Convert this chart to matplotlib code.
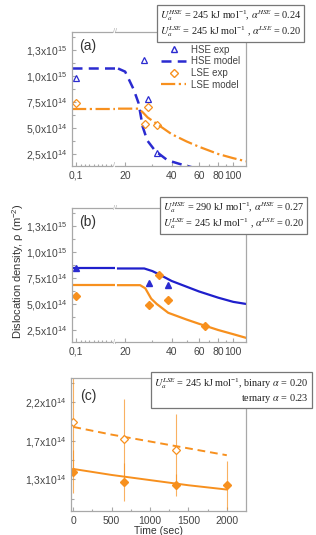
import numpy as np
import matplotlib
matplotlib.use("Agg")
import matplotlib.pyplot as plt
from matplotlib.ticker import FixedLocator, NullFormatter
from matplotlib.lines import Line2D

plt.rcParams['font.family'] = ['Liberation Sans', 'DejaVu Sans']
plt.rcParams['mathtext.fontset'] = 'stix'
plt.rcParams['mathtext.default'] = 'regular'

blue = '#2b2bd0'
orange = '#f7901e'
spine_c = '#a8a8a8'
txt_c = '#444444'

# ---- panel (a) data
a_hse_t = [0.1, 26.6, 28, 32]
a_hse_rho = [0.98e15, 1.15e15, 0.78e15, 0.26e15]
a_lse_t = [0.1, 27, 28, 32]
a_lse_rho = [7.4e14, 5.4e14, 7.0e14, 5.3e14]
a_hse_model_t = [0, 1, 18, 20, 22.7, 24.4, 26, 27.8, 31.3, 37.6, 45, 55]
a_hse_model_rho = [1.07e15, 1.07e15, 1.07e15, 1.04e15, 0.87e15, 0.74e15, 0.51e15, 0.38e15,
                   0.28e15, 0.19e15, 0.155e15, 0.12e15]
a_lse_model_t = [0, 1, 18, 24.4, 26, 28, 32, 40, 50, 60, 80, 100, 121]
a_lse_model_rho = [6.85e14, 6.85e14, 6.85e14, 6.85e14, 6.5e14, 6.0e14, 5.4e14, 4.4e14,
                   3.7e14, 3.2e14, 2.5e14, 2.1e14, 1.8e14]

# ---- panel (b) data
b_hse_t = [0.1, 28.7, 38]
b_hse_rho = [8.46e14, 7.0e14, 6.8e14]
b_lse_t = [0.1, 28.7, 32.9, 38, 65.6]
b_lse_rho = [5.8e14, 4.9e14, 7.8e14, 5.4e14, 2.9e14]
b_hse_model_t = [0, 1, 18, 26.6, 30, 33, 40, 60, 80, 100, 121]
b_hse_model_rho = [8.4e14, 8.4e14, 8.4e14, 8.4e14, 8.15e14, 7.85e14, 7.2e14, 6.2e14,
                   5.6e14, 5.2e14, 5.0e14]
b_lse_model_t = [0, 1, 18, 25, 27, 29.5, 32, 38, 50, 60, 80, 100, 121]
b_lse_model_rho = [6.8e14, 6.8e14, 6.8e14, 6.8e14, 6.5e14, 5.5e14, 5.0e14, 4.15e14,
                   3.5e14, 3.1e14, 2.5e14, 2.1e14, 1.75e14]

# ---- panel (c) data
c_ter_t = [0, 667, 1333]
c_ter_rho = [1.97e14, 1.77e14, 1.645e14]
c_ter_err = [0.6e14, 0.465e14, 0.415e14]
c_bin_t = [0, 667, 1333, 2000]
c_bin_rho = [1.39e14, 1.265e14, 1.23e14, 1.23e14]
c_bin_err = [0.25e14, 0.22e14, 0.13e14, 0.28e14]
c_fit_t = [0, 500, 1000, 1500, 2000]
c_ter_fit = [1.91e14, 1.82e14, 1.74e14, 1.66e14, 1.58e14]
c_bin_fit = [1.42e14, 1.35e14, 1.29e14, 1.23e14, 1.18e14]

rho_ticks = [2.5e14, 5.0e14, 7.5e14, 1.0e15, 1.25e15]
rho_labels = ['2,5x10$^{14}$', '5,0x10$^{14}$', '7,5x10$^{14}$', '1,0x10$^{15}$', '1,3x10$^{15}$']
t_ticks = [20, 40, 60, 80, 100]
c_yticks = [1.3e14, 1.75e14, 2.2e14]
c_ylabels = ['1,3x10$^{14}$', '1,7x10$^{14}$', '2,2x10$^{14}$']

W, H = 316, 535
fig = plt.figure(figsize=(W / 100, H / 100), dpi=100)


def style(ax):
    for s in ax.spines.values():
        s.set_color(spine_c)
        s.set_linewidth(0.9)
    ax.tick_params(which='both', direction='in', colors=spine_c, labelcolor=txt_c,
                   labelsize=7.5, length=3, width=0.8)
    ax.tick_params(which='minor', length=1.8)


def broken(top_px):
    bottom = 1 - (top_px + 134) / H
    axl = fig.add_axes([72 / W, bottom, 43 / W, 134 / H])
    axr = fig.add_axes([115 / W, bottom, 131 / W, 134 / H])
    for ax in (axl, axr):
        style(ax)
        ax.set_ylim(1.35e14, 1.42e15)
    axl.set_xlim(0, 1)
    axl.set_xticks([0.1])
    axl.set_xticklabels(['0,1'])
    axl.xaxis.set_minor_locator(FixedLocator(np.arange(0.2, 1.0, 0.1)))
    axl.set_yticks(rho_ticks)
    axl.set_yticklabels(rho_labels)
    axl.yaxis.set_minor_locator(FixedLocator([r + 1.25e14 for r in rho_ticks]))
    axl.spines['right'].set_visible(False)
    axr.set_xscale('log')
    axr.set_xlim(17.2, 121)
    axr.xaxis.set_major_locator(FixedLocator(t_ticks))
    axr.set_xticklabels([str(t) for t in t_ticks])
    axr.xaxis.set_minor_locator(FixedLocator([30, 50, 70, 90]))
    axr.xaxis.set_minor_formatter(NullFormatter())
    axr.set_yticks([])
    axr.spines['left'].set_visible(False)
    for y in (0, 1):
        axl.text(1.0, y, '//', transform=axl.transAxes, ha='center', va='center',
                 fontsize=5, color=spine_c, zorder=5,
                 bbox=dict(facecolor='white', edgecolor='none', pad=0.3))
    return axl, axr


def both(axl, axr, t, rho, *args, **kw):
    t = np.asarray(t, float)
    rho = np.asarray(rho, float)
    m = t <= 1
    axl.plot(t[m], rho[m], *args, **kw)
    axr.plot(t[~m], rho[~m], *args, **kw)


def note(x_px, y_px, s, **kw):
    fig.text(x_px / W, 1 - y_px / H, s, ha='left', va='top', fontsize=7.4,
             family=['Liberation Serif', 'DejaVu Serif'], color='#222222',
             linespacing=1.1,
             bbox=dict(boxstyle='square,pad=0.3', facecolor='white', edgecolor='#777777',
                       linewidth=0.9), **kw)


# ---- (a)
al, ar = broken(32)
both(al, ar, a_hse_model_t, a_hse_model_rho, '--', color=blue, lw=1.8, dashes=(4, 2.5))
both(al, ar, a_lse_model_t, a_lse_model_rho, '-.', color=orange, lw=1.6)
both(al, ar, a_hse_t, a_hse_rho, '^', ls='none', mfc='none', mec=blue, ms=5, mew=0.9)
both(al, ar, a_lse_t, a_lse_rho, 'D', ls='none', mfc='none', mec=orange, ms=4.5, mew=0.9)
al.text(0.16, 0.95, '(a)', transform=al.transAxes, ha='left', va='top', fontsize=10,
        color='#333333')
handles = [Line2D([], [], marker='^', ls='none', mfc='none', mec=blue, ms=5),
           Line2D([], [], ls='--', color=blue, lw=1.8, dashes=(4, 2.5)),
           Line2D([], [], marker='D', ls='none', mfc='none', mec=orange, ms=4.5),
           Line2D([], [], ls='-.', color=orange, lw=1.6)]
ar.legend(handles, ['HSE exp', 'HSE model', 'LSE exp', 'LSE model'], loc='upper right',
          bbox_to_anchor=(1.0, 0.95), frameon=False, fontsize=7, labelcolor=txt_c,
          handlelength=2.6, labelspacing=0.18, borderaxespad=0.2, handletextpad=0.5)
note(160, 8, r'$\mathit{U}_{\mathit{a}}^{\mathit{HSE}}$ = 245 kJ mol$^{-1}$, '
             r'$\mathit{\alpha}^{\mathit{HSE}}$ = 0.24' '\n'
             r'$\mathit{U}_{\mathit{a}}^{\mathit{LSE}}$ = 245 kJ mol$^{-1}$ , '
             r'$\mathit{\alpha}^{\mathit{LSE}}$ = 0.20')

# ---- (b)
bl, br = broken(208)
both(bl, br, b_hse_model_t, b_hse_model_rho, '-', color='#1f1fcc', lw=1.6)
both(bl, br, b_lse_model_t, b_lse_model_rho, '-', color=orange, lw=1.6)
both(bl, br, b_hse_t, b_hse_rho, '^', ls='none', color=blue, ms=5)
both(bl, br, b_lse_t, b_lse_rho, 'D', ls='none', color=orange, ms=4)
bl.text(0.16, 0.95, '(b)', transform=bl.transAxes, ha='left', va='top', fontsize=10,
        color='#333333')
note(163, 200, r'$\mathit{U}_{\mathit{a}}^{\mathit{HSE}}$ = 290 kJ mol$^{-1}$, '
               r'$\mathit{\alpha}^{\mathit{HSE}}$ = 0.27' '\n'
               r'$\mathit{U}_{\mathit{a}}^{\mathit{LSE}}$ = 245 kJ mol$^{-1}$ , '
               r'$\mathit{\alpha}^{\mathit{LSE}}$ = 0.20')

fig.text(18 / W, 1 - 271 / H, r'Dislocation density, ρ (m$^{-2}$)', rotation=90,
         ha='center', va='center', fontsize=8, color='#333333')

# ---- (c)
ac = fig.add_axes([71 / W, 1 - 511 / H, 175 / W, 133 / H])
style(ac)
ac.errorbar(c_ter_t, c_ter_rho, yerr=c_ter_err, fmt='none', ecolor=orange, elinewidth=0.8,
            alpha=0.7)
ac.errorbar(c_bin_t, c_bin_rho, yerr=c_bin_err, fmt='none', ecolor=orange, elinewidth=0.8,
            alpha=0.7)
ac.plot(c_fit_t, c_ter_fit, '--', color=orange, lw=1.4, dashes=(4, 2.5))
ac.plot(c_fit_t, c_bin_fit, '-', color=orange, lw=1.4)
ac.plot(c_ter_t, c_ter_rho, 'D', ls='none', mfc='white', mec=orange, ms=4.5, mew=0.9)
ac.plot(c_bin_t, c_bin_rho, 'D', ls='none', color=orange, ms=4)
ac.set_xlim(-30, 2250)
ac.set_ylim(0.93e14, 2.48e14)
ac.set_xticks([0, 500, 1000, 1500, 2000])
ac.xaxis.set_minor_locator(FixedLocator([250, 750, 1250, 1750]))
ac.set_yticks(c_yticks)
ac.set_yticklabels(c_ylabels)
ac.yaxis.set_minor_locator(FixedLocator([1.075e14, 1.525e14, 1.975e14, 2.425e14]))
ac.set_xlabel('Time (sec)', fontsize=7.5, color='#333333', labelpad=0)
ac.text(0.05, 0.92, '(c)', transform=ac.transAxes, ha='left', va='top', fontsize=10,
        color='#333333')
note(154, 376, r'$\mathit{U}_{\mathit{a}}^{\mathit{LSE}}$ = 245 kJ mol$^{-1}$, binary '
               r'$\mathit{\alpha}$ = 0.20' '\n' r'ternary $\mathit{\alpha}$ = 0.23',
     multialignment='right')

fig.savefig('out.png', dpi=100)
